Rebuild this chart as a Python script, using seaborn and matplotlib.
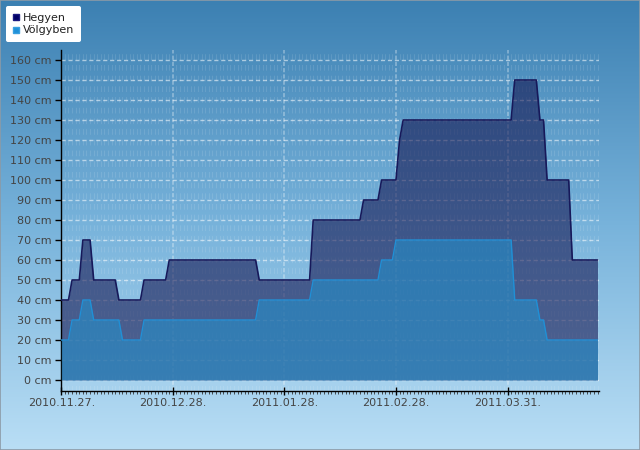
import numpy as np
import pandas as pd
import matplotlib
matplotlib.use("Agg")
import matplotlib.pyplot as plt
import matplotlib.dates as mdates
from matplotlib.lines import Line2D
from matplotlib.patches import Rectangle
from matplotlib.colors import LinearSegmentedColormap
from matplotlib.ticker import FuncFormatter
import seaborn as sns

# ---------------- data (daily snow depth, cm) ----------------
start_date = "2010-11-27"
series_names = ["Hegyen", "Völgyben"]
hegyen = [
    40, 40, 40, 50, 50, 50, 70, 70, 70, 50,
    50, 50, 50, 50, 50, 50, 40, 40, 40, 40,
    40, 40, 40, 50, 50, 50, 50, 50, 50, 50,
    60, 60, 60, 60, 60, 60, 60, 60, 60, 60,
    60, 60, 60, 60, 60, 60, 60, 60, 60, 60,
    60, 60, 60, 60, 60, 50, 50, 50, 50, 50,
    50, 50, 50, 50, 50, 50, 50, 50, 50, 50,
    80, 80, 80, 80, 80, 80, 80, 80, 80, 80,
    80, 80, 80, 80, 90, 90, 90, 90, 90, 100,
    100, 100, 100, 100, 120, 130, 130, 130, 130, 130,
    130, 130, 130, 130, 130, 130, 130, 130, 130, 130,
    130, 130, 130, 130, 130, 130, 130, 130, 130, 130,
    130, 130, 130, 130, 130, 130, 150, 150, 150, 150,
    150, 150, 150, 130, 130, 100, 100, 100, 100, 100,
    100, 100, 60, 60, 60, 60, 60, 60, 60, 60,
]
volgyben = [
    20, 20, 20, 30, 30, 30, 40, 40, 40, 30,
    30, 30, 30, 30, 30, 30, 30, 20, 20, 20,
    20, 20, 20, 30, 30, 30, 30, 30, 30, 30,
    30, 30, 30, 30, 30, 30, 30, 30, 30, 30,
    30, 30, 30, 30, 30, 30, 30, 30, 30, 30,
    30, 30, 30, 30, 30, 40, 40, 40, 40, 40,
    40, 40, 40, 40, 40, 40, 40, 40, 40, 40,
    50, 50, 50, 50, 50, 50, 50, 50, 50, 50,
    50, 50, 50, 50, 50, 50, 50, 50, 50, 60,
    60, 60, 60, 70, 70, 70, 70, 70, 70, 70,
    70, 70, 70, 70, 70, 70, 70, 70, 70, 70,
    70, 70, 70, 70, 70, 70, 70, 70, 70, 70,
    70, 70, 70, 70, 70, 70, 40, 40, 40, 40,
    40, 40, 40, 30, 30, 20, 20, 20, 20, 20,
    20, 20, 20, 20, 20, 20, 20, 20, 20, 20,
]
tick_dates = ["2010-11-27", "2010-12-28", "2011-01-28", "2011-02-28", "2011-03-31"]
y_ticks = list(range(0, 170, 10))

dates = pd.date_range(start_date, periods=len(hegyen), freq="D")
df = pd.DataFrame({"date": dates, series_names[0]: hegyen, series_names[1]: volgyben})

# ---------------- style ----------------
sns.set_theme(style="white")
plt.rcParams["font.family"] = ["DejaVu Sans"]
plt.rcParams["lines.scale_dashes"] = False

fig = plt.figure(figsize=(6.4, 4.5), dpi=100)

# gradient background for the whole figure
bg = fig.add_axes([0, 0, 1, 1], zorder=-10)
cmap = LinearSegmentedColormap.from_list("bg", ["#3c80b2", "#78b3db", "#b9def5"])
grad = np.linspace(0, 1, 256).reshape(-1, 1)
bg.imshow(grad, aspect="auto", cmap=cmap, extent=[0, 1, 0, 1], origin="upper")
bg.axis("off")
fig.patches.append(Rectangle((0, 0), 1, 1, transform=fig.transFigure, fill=False,
                             edgecolor="#8c9aa6", lw=1.2))

ax = fig.add_axes([61 / 640, 1 - 391 / 450, 538 / 640, 341 / 450])
ax.patch.set_alpha(0)
ax.set_axisbelow(True)

# areas
ax.fill_between(df["date"], 0, df["Hegyen"], color="#12124e", alpha=0.58, lw=0, zorder=2)
sns.lineplot(data=df, x="date", y="Hegyen", ax=ax, color="#17195a", lw=1.2,
             zorder=3, legend=False)
ax.fill_between(df["date"], 0, df["Völgyben"], color="#1e9ad7", alpha=0.5, lw=0, zorder=4)
sns.lineplot(data=df, x="date", y="Völgyben", ax=ax, color="#2090d6", lw=1.0,
             zorder=5, legend=False)

# axes limits
ax.set_xlim(dates[0] - pd.Timedelta(hours=2), dates[-1] + pd.Timedelta(hours=10))
ax.set_ylim(-5.5, 165)
ax.set_xlabel("")
ax.set_ylabel("")

# ticks
ax.set_yticks(y_ticks)
ax.yaxis.set_major_formatter(FuncFormatter(lambda v, p: f"{int(v)} cm"))
ax.set_xticks(pd.to_datetime(tick_dates))
ax.xaxis.set_major_formatter(mdates.DateFormatter("%Y.%m.%d."))
ax.xaxis.set_minor_locator(mdates.DayLocator())

ax.tick_params(axis="y", which="major", left=True, length=4, width=1, color="black",
               labelsize=8, labelcolor="#444444", pad=3)
ax.tick_params(axis="x", which="major", bottom=True, direction="inout", length=6, width=1,
               color="black", labelsize=8, labelcolor="#444444", pad=2)
ax.tick_params(axis="x", which="minor", bottom=True, direction="out", length=2, width=0.6,
               color="#333333")

# grid
ax.grid(axis="y", which="major", color="white", alpha=0.55, lw=1, linestyle=(0, (3, 2)))
ax.grid(axis="x", which="major", color="white", alpha=0.35, lw=1.2, linestyle=(0, (3, 1.5)))
ax.grid(axis="x", which="minor", color="white", alpha=0.11, lw=0.8, linestyle=(0, (4.1, 3.6)))

for side in ["top", "right"]:
    ax.spines[side].set_visible(False)
for side in ["left", "bottom"]:
    ax.spines[side].set_color("black")
    ax.spines[side].set_linewidth(1)

# legend
handles = [
    Line2D([], [], marker="s", lw=0, markersize=5, markerfacecolor="#000066",
           markeredgecolor="#1a1a80"),
    Line2D([], [], marker="s", lw=0, markersize=5, markerfacecolor="#1e90d8",
           markeredgecolor="#3aa0e0"),
]
leg = fig.legend(handles, series_names, loc="upper left",
                 bbox_to_anchor=(6 / 640, 1 - 6 / 450), frameon=True, fancybox=True,
                 framealpha=1, facecolor="white", edgecolor="none", fontsize=8,
                 handlelength=0.6, handletextpad=0.35, borderpad=0.6,
                 labelspacing=0.25, borderaxespad=0)
for t in leg.get_texts():
    t.set_color("#222222")

fig.savefig("out.png", dpi=100)
